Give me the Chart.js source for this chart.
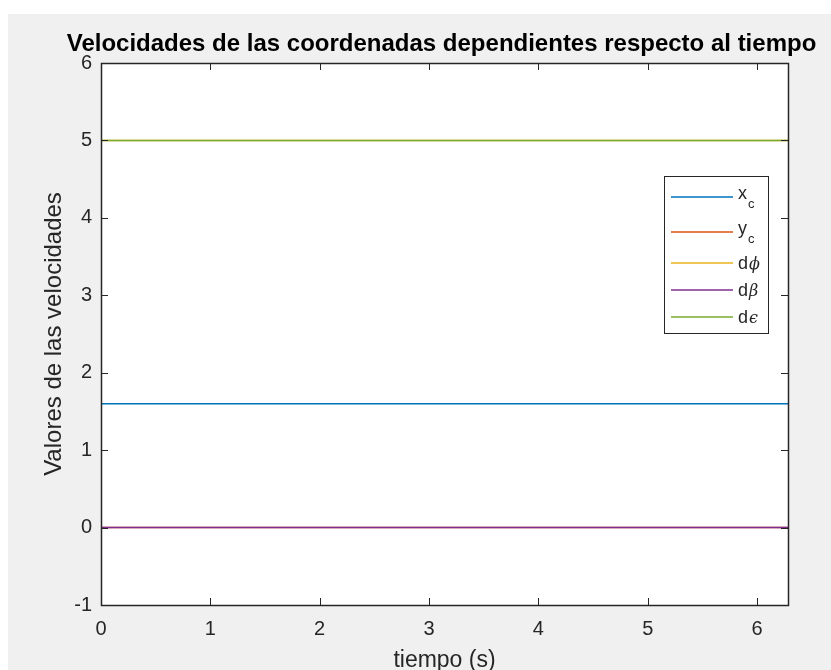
<!DOCTYPE html>
<html>
<head>
<meta charset="utf-8">
<script src="https://cdn.jsdelivr.net/npm/chart.js@4.4.1/dist/chart.umd.min.js"></script>
<style>
  html, body { margin: 0; padding: 0; background: #fff; overflow: hidden; }
  #wrap { width: 831px; height: 670px; }
</style>
</head>
<body>
<div id="wrap"><canvas id="grafica" width="831" height="670"></canvas></div>
<script>
// Tiempo de simulación (s) y velocidades de las coordenadas dependientes
const tiempo = [0, 1, 2, 3, 4, 5, 6, 6.2832];
const velXc    = [1.6, 1.6, 1.6, 1.6, 1.6, 1.6, 1.6, 1.6];
const velYc    = [0, 0, 0, 0, 0, 0, 0, 0];
const velPhi   = [5, 5, 5, 5, 5, 5, 5, 5];
const velBeta  = [0, 0, 0, 0, 0, 0, 0, 0];
const velEps   = [5, 5, 5, 5, 5, 5, 5, 5];

const etiquetas = ['x_c', 'y_c', 'dϕ', 'dβ', 'dϵ'];
const colores = ['#0072BD', '#D95319', '#EDB120', '#7E2F8E', '#77AC30'];

const titulo = 'Velocidades de las coordenadas dependientes respecto al tiempo';
const tituloX = 'tiempo (s)';
const tituloY = 'Valores de las velocidades';

const limX = [0, 6.2832];
const limY = [-1, 6];
const pasoX = 1;
const pasoY = 1;

const series = [velXc, velYc, velPhi, velBeta, velEps];

const FUENTE = '"Liberation Sans", Arial, Helvetica, sans-serif';
const GRIS = '#262626';

// Fondo de la figura, marco con marcas hacia dentro, título y leyenda
const marco = {
  id: 'marco',
  beforeDraw(chart) {
    const { ctx, chartArea: a } = chart;
    ctx.save();
    ctx.fillStyle = '#ffffff';
    ctx.fillRect(0, 0, chart.width, chart.height);
    ctx.fillStyle = '#f0f0f0';
    ctx.fillRect(8, 14, chart.width - 8, chart.height - 14);
    ctx.fillStyle = '#ffffff';
    ctx.fillRect(a.left, a.top, a.right - a.left, a.bottom - a.top);
    ctx.restore();
  },
  afterDatasetsDraw(chart) {
    const { ctx, chartArea: a, scales: { x, y } } = chart;
    ctx.save();
    ctx.strokeStyle = GRIS;
    ctx.lineWidth = 1;
    const L = 7;
    ctx.beginPath();
    x.ticks.forEach(t => {
      const px = Math.round(x.getPixelForValue(t.value)) + 0.5;
      ctx.moveTo(px, a.bottom); ctx.lineTo(px, a.bottom - L);
      ctx.moveTo(px, a.top); ctx.lineTo(px, a.top + L);
    });
    y.ticks.forEach(t => {
      const py = Math.round(y.getPixelForValue(t.value)) + 0.5;
      ctx.moveTo(a.left, py); ctx.lineTo(a.left + L, py);
      ctx.moveTo(a.right, py); ctx.lineTo(a.right - L, py);
    });
    ctx.stroke();
    ctx.lineWidth = 1.5;
    ctx.strokeRect(Math.round(a.left) + 0.5, Math.round(a.top) + 0.5,
                   Math.round(a.right - a.left), Math.round(a.bottom - a.top));

    // Título principal centrado sobre los ejes
    ctx.fillStyle = '#000000';
    ctx.font = 'bold 24px ' + FUENTE;
    ctx.textAlign = 'center';
    ctx.textBaseline = 'alphabetic';
    ctx.fillText(titulo, (a.left + a.right) / 2 - 3, 51);

    // Leyenda
    const lx = 664.5, ly = 176.5, lw = 104;
    const filas = chart.data.datasets.map(d => d.label.includes('_') ? 35 : 27);
    const lh = filas.reduce((s, h) => s + h, 0) + 6;
    ctx.fillStyle = '#ffffff';
    ctx.fillRect(lx, ly, lw, lh);
    ctx.strokeStyle = GRIS;
    ctx.lineWidth = 1;
    ctx.strokeRect(lx, ly, lw, lh);
    let cy = ly + 3;
    chart.data.datasets.forEach((d, i) => {
      const centro = cy + filas[i] / 2;
      cy += filas[i];
      ctx.strokeStyle = colores[i];
      ctx.lineWidth = 1.5;
      ctx.beginPath();
      ctx.moveTo(671, centro); ctx.lineTo(733, centro);
      ctx.stroke();
      ctx.fillStyle = GRIS;
      ctx.textAlign = 'left';
      let tx = 738;
      if (d.label.includes('_')) {
        const [base, sub] = d.label.split('_');
        ctx.font = '18px ' + FUENTE;
        ctx.fillText(base, tx, centro + 2);
        tx += ctx.measureText(base).width + 1;
        ctx.font = '13px ' + FUENTE;
        ctx.fillText(sub, tx, centro + 11);
      } else {
        for (const ch of d.label) {
          const griego = ch.charCodeAt(0) >= 0x370 && ch.charCodeAt(0) < 0x400;
          ctx.font = griego ? 'italic 16px "DejaVu Serif", serif' : '18px ' + FUENTE;
          ctx.fillText(ch, tx, centro + 6);
          tx += ctx.measureText(ch).width + (griego ? 0 : 1);
        }
      }
    });
    ctx.restore();
  }
};

const datasets = series.map((vals, i) => ({
  label: etiquetas[i],
  data: tiempo.map((t, k) => ({ x: t, y: vals[k] })),
  borderColor: colores[i],
  backgroundColor: colores[i],
  borderWidth: 1.6,
  pointRadius: 0,
  fill: false,
  tension: 0,
  order: series.length - i
}));

new Chart(document.getElementById('grafica'), {
  type: 'line',
  data: { datasets },
  plugins: [marco],
  options: {
    responsive: false,
    animation: false,
    layout: { padding: { top: 63, right: 43, bottom: 0, left: 0 } },
    plugins: {
      legend: { display: false },
      title: { display: false },
      tooltip: { enabled: false }
    },
    scales: {
      x: {
        type: 'linear',
        min: limX[0],
        max: limX[1],
        afterFit: s => { s.height = 65; },
        grid: { display: false, drawTicks: false },
        border: { display: false },
        ticks: {
          stepSize: pasoX,
          includeBounds: false,
          padding: 12,
          color: GRIS,
          font: { family: FUENTE, size: 20 }
        },
        title: {
          display: true,
          text: tituloX,
          color: GRIS,
          padding: 0,
          font: { family: FUENTE, size: 23, lineHeight: 0.8 }
        }
      },
      y: {
        type: 'linear',
        min: limY[0],
        max: limY[1],
        afterFit: s => { s.width = 101; },
        grid: { display: false, drawTicks: false },
        border: { display: false },
        ticks: {
          stepSize: pasoY,
          padding: 9,
          color: GRIS,
          font: { family: FUENTE, size: 20 }
        },
        title: {
          display: true,
          text: tituloY,
          color: GRIS,
          padding: { top: 42, bottom: 0 },
          font: { family: FUENTE, size: 24, lineHeight: 1 }
        }
      }
    }
  }
});
</script>
</body>
</html>
